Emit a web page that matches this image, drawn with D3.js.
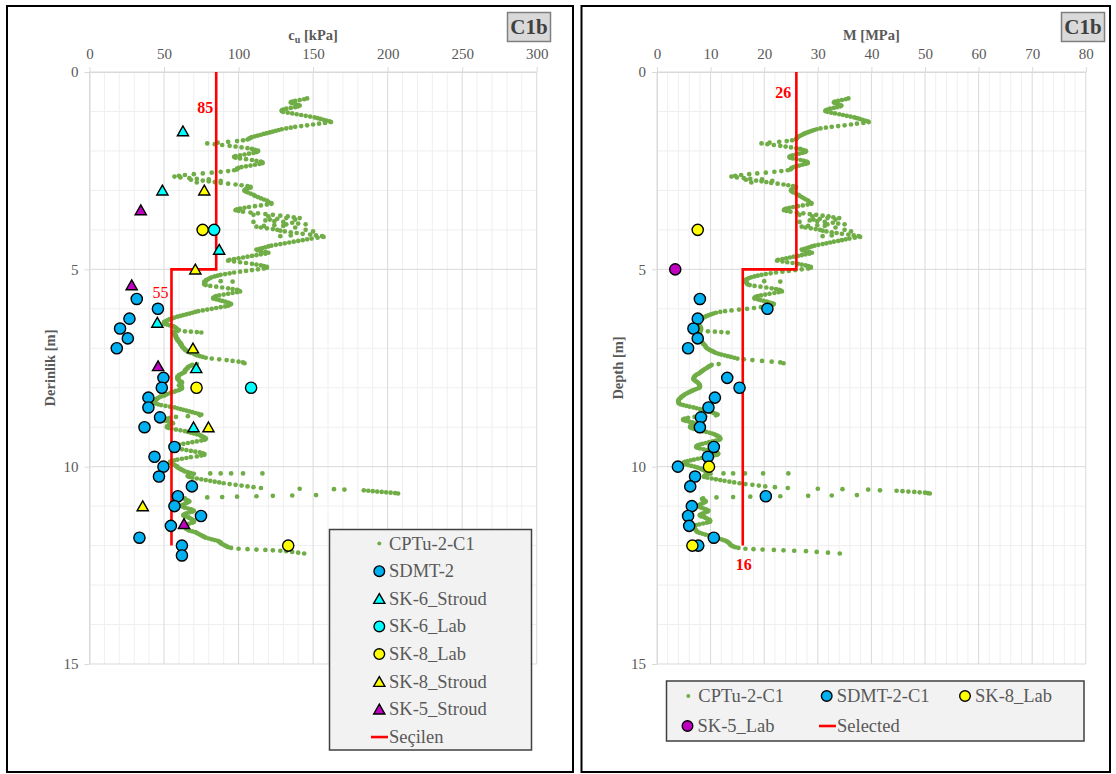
<!DOCTYPE html>
<html><head><meta charset="utf-8">
<script src="https://cdn.jsdelivr.net/npm/d3@7"></script>
<style>
body{margin:0;background:#fff}
svg text{font-family:"Liberation Serif","Times New Roman",serif}
</style>
</head><body>
<svg id="c" width="1116" height="774"></svg>
<script>
// ---------------- DATA ----------------
const cuTicks = [0, 50, 100, 150, 200, 250, 300];
const mTicks = [0, 10, 20, 30, 40, 50, 60, 70, 80];
const depthTicks = [0, 5, 10, 15];

// CPTu-2-C1 cu profile [depth m, cu kPa]
const cptCu = [
[0.67,146],[0.69,144],[0.71,141],[0.73,138],[0.75,136],[0.77,135],[0.79,136],[0.81,138],[0.83,140],[0.85,141],[0.87,140],[0.89,138],[0.91,135],[0.93,132],[0.95,130],[0.97,129],[0.99,129],[1.01,130],[1.03,133],[1.05,136],[1.07,139],[1.09,142],[1.11,145],[1.13,148],[1.15,151],[1.17,153],[1.19,155],[1.21,157],[1.23,159],[1.25,161],[1.27,162],
[1.29,158],[1.31,154],[1.33,150],[1.35,146],[1.37,142],[1.39,138],[1.41,135],[1.43,132],[1.45,129],[1.47,127],[1.49,125],[1.51,123],[1.53,121],[1.55,119],[1.57,117],[1.59,115],[1.61,113],[1.63,111],[1.65,109],[1.67,108],[1.69,107],[1.71,106],[1.73,103],[1.75,99],[1.77,93],[1.79,86],[1.81,79],
[1.83,84],[1.85,89],[1.87,94],[1.89,98],[1.91,102],[1.93,106],[1.95,109],[1.97,111],[1.99,113],[2.01,113],[2.03,112],[2.05,110],[2.07,107],[2.09,104],[2.11,101],[2.13,98],[2.15,97],[2.17,98],[2.19,101],[2.21,105],[2.23,109],[2.25,112],[2.27,115],[2.29,116],[2.31,116],[2.33,114],[2.35,111],[2.37,108],[2.39,105],[2.41,102],[2.43,100],[2.45,99],[2.47,99],[2.49,97],[2.51,93],[2.53,88],[2.55,82],[2.57,76],[2.59,70],[2.61,64],[2.63,60],[2.65,57],
[2.67,61],[2.69,67],[2.71,72],[2.72,80],[2.73,68],[2.75,76],[2.76,88],[2.77,80],[2.79,84],[2.80,72],[2.81,88],[2.83,93],[2.85,98],[2.87,102],[2.89,106],[2.91,108],[2.93,108],[2.95,106],[2.97,105],[2.99,104],[3.01,104],[3.03,105],[3.05,106],[3.08,108],[3.11,110],[3.14,111],[3.17,113],[3.20,115],[3.23,117],[3.26,119],[3.29,120],[3.32,122],[3.34,122],[3.36,119],[3.38,115],[3.40,111],[3.42,107],[3.44,104],[3.46,101],[3.48,99],[3.50,98],[3.52,100],
[3.54,103],[3.56,108],[3.58,113],[3.60,118],[3.62,123],[3.62,110],[3.64,128],[3.66,133],[3.66,120],[3.68,137],[3.70,132],[3.70,141],[3.72,126],[3.74,121],[3.74,138],[3.76,118],[3.78,124],[3.80,130],[3.80,110],[3.82,136],[3.84,140],[3.86,132],[3.86,145],[3.88,124],[3.90,117],[3.90,130],[3.92,112],[3.94,115],[3.94,138],[3.96,119],[3.98,123],[4.00,126],[4.00,145],[4.02,128],[4.04,131],[4.04,150],[4.06,135],[4.08,139],[4.10,143],[4.12,148],[4.14,152],[4.14,135],[4.16,156],[4.16,128],[4.18,157],
[4.20,153],[4.22,149],[4.24,146],[4.26,143],[4.28,140],[4.30,137],[4.32,134],[4.34,131],[4.36,128],[4.38,125],[4.40,122],[4.42,120],[4.44,118],[4.46,116],[4.48,114],[4.50,112],[4.52,113],[4.54,115],[4.56,118],[4.58,120],[4.60,118],[4.62,115],[4.64,112],[4.66,109],[4.68,106],[4.70,103],[4.72,100],[4.74,97],[4.76,94],[4.78,93],[4.80,97],[4.82,101],[4.84,105],[4.86,109],[4.88,112],[4.90,115],[4.92,117],[4.94,119],[4.96,119],[4.98,117],
[5.00,113],[5.02,109],[5.04,105],[5.06,101],[5.08,97],[5.10,94],[5.12,91],[5.14,88],[5.16,86],[5.18,84],[5.20,82],[5.22,81],[5.24,80],[5.26,79],[5.28,78],[5.30,78],[5.30,88],[5.31,96],[5.32,77],[5.34,77],[5.36,77],[5.38,77],[5.40,78],[5.42,81],[5.44,85],[5.46,89],[5.48,93],[5.50,96],[5.52,99],[5.54,100],[5.56,101],[5.58,99],[5.60,96],[5.62,93],[5.64,90],[5.66,87],[5.68,85],[5.70,84],[5.72,83],[5.74,83],[5.76,85],[5.78,87],[5.80,89],[5.82,91],[5.84,93],[5.86,94],[5.88,95],[5.90,94],[5.92,93],[5.94,91],[5.96,88],[5.98,85],[6.00,82],[6.02,79],[6.04,76],[6.06,73],[6.08,71],[6.10,69],[6.12,67],[6.14,65],[6.16,63],[6.18,61],[6.20,59],[6.22,57],[6.24,56],[6.26,54],[6.28,53],[6.30,52],[6.32,51],[6.34,50],[6.36,50],[6.38,50],[6.40,52],
[6.42,54],[6.44,56],[6.46,57],[6.48,58],[6.50,58],[6.52,59],[6.54,60],[6.56,59],[6.57,64],[6.58,68],[6.59,72],[6.60,75],[6.58,57],[6.60,56],[6.62,56],[6.64,57],[6.66,57],[6.68,58],[6.70,58],[6.72,58],[6.74,58],[6.76,59],[6.78,59],[6.80,59],[6.82,60],[6.84,60],[6.86,61],[6.88,61],[6.90,61],[6.92,62],[6.94,62],[6.96,62],[6.98,63],[7.00,63],[7.02,64],[7.04,64],[7.06,65],[7.08,66],[7.10,67],[7.12,68],[7.14,70],[7.16,71],[7.18,72],[7.20,74],[7.22,76],[7.24,78],[7.26,82],[7.28,87],[7.30,92],[7.32,96],[7.34,100],[7.36,103],[7.38,104],[7.40,72],
[7.42,69],[7.44,68],[7.46,67],[7.48,66],[7.50,66],[7.52,65],[7.54,65],[7.56,64],[7.58,64],[7.60,64],[7.62,63],[7.64,62],[7.66,61],[7.68,60],[7.70,60],[7.72,59],[7.74,59],[7.76,59],[7.78,59],[7.80,60],[7.82,60],[7.84,61],[7.86,62],[7.88,62],[7.90,61],[7.92,61],[7.94,60],[7.96,61],[7.98,62],[8.00,62],[8.02,62],[8.04,61],[8.06,60],[8.08,58],[8.10,57],[8.12,55],[8.14,54],[8.16,52],[8.18,51],[8.20,50],[8.22,48],[8.24,47],[8.26,46],[8.28,45],[8.30,45],[8.32,44],[8.34,44],[8.36,43],[8.38,43],[8.40,44],[8.42,46],[8.44,48],[8.46,51],[8.48,54],[8.50,57],[8.52,59],[8.54,61],[8.56,63],[8.58,65],[8.60,67],[8.62,69],[8.64,71],[8.66,73],[8.68,75],[8.70,74],[8.72,66],[8.74,58],[8.76,54],[8.78,52],[8.80,50],[8.82,50],[8.84,51],[8.86,53],[8.88,55],[8.90,56],[8.92,55],[8.94,54],[8.96,53],[8.98,52],[9.00,52],[9.02,53],[9.04,55],[9.06,58],[9.08,61],[9.10,64],[9.12,66],[9.14,68],[9.16,70],[9.18,72],[9.20,74],[9.22,75],[9.24,76],[9.26,77],[9.28,78],[9.30,78],[9.32,77],[9.34,75],[9.36,72],[9.38,69],[9.40,66],[9.42,63],[9.44,60],[9.46,58],[9.48,56],[9.50,55],[9.52,56],[9.54,59],[9.56,62],[9.58,65],[9.60,68],[9.62,71],[9.64,74],[9.66,76],[9.68,77],[9.70,77],[9.72,75],[9.74,72],[9.76,68],[9.78,65],[9.80,62],[9.82,59],[9.84,57],[9.86,55],[9.88,54],[9.90,54],[9.92,55],[9.94,56],[9.96,57],[9.98,58],[10.00,59],[10.02,59],[10.04,60],[10.06,61],[10.08,62],[10.10,63],[10.12,64],[10.14,66],[10.16,68],[10.17,81],[10.17,88],[10.17,95],[10.17,103],[10.17,116],[10.18,70],
[10.20,67],[10.22,66],[10.24,66],[10.26,67],[10.28,69],[10.30,72],[10.32,75],[10.34,78],[10.36,81],[10.38,84],[10.40,87],[10.42,90],[10.44,94],[10.46,98],[10.48,102],[10.50,106],[10.52,110],[10.54,115],[10.56,141],[10.57,164],[10.58,171],[10.60,184],[10.61,187],[10.62,190],[10.63,193],[10.64,196],[10.65,199],[10.66,202],[10.67,205],[10.68,207],[10.72,152],[10.73,136],[10.74,123],[10.75,112],[10.76,99],[10.77,89],[10.78,79],[10.80,64],
[10.82,64],[10.84,65],[10.86,66],[10.88,67],[10.90,66],[10.92,65],[10.94,64],[10.96,63],[10.98,62],[11.00,62],[11.02,63],[11.04,64],[11.06,66],[11.08,68],[11.10,69],[11.12,70],[11.14,69],[11.16,67],[11.18,65],[11.20,64],[11.22,63],[11.24,63],[11.26,64],[11.28,66],[11.30,67],[11.32,68],[11.34,69],[11.36,70],[11.38,70],[11.40,70],[11.42,69],[11.44,67],[11.46,66],[11.48,65],[11.50,64],[11.52,64],[11.54,64],[11.56,65],[11.58,65],[11.60,66],[11.62,67],[11.64,69],[11.66,71],[11.68,72],[11.70,73],[11.72,74],[11.74,75],[11.76,76],[11.78,77],[11.80,78],[11.82,80],[11.84,82],[11.86,84],[11.88,86],[11.90,87],[11.92,88],[11.94,88],[11.96,89],[11.98,90],[12.00,91],[12.02,92],[12.04,93],[12.06,95],[12.08,100],[12.09,106],[12.10,112],[12.11,118],[12.12,123],[12.13,128],[12.14,132],[12.16,136],[12.18,140],[12.20,144]
];

// CPTu-2-C1 constrained modulus profile [depth m, M MPa]
const cptM = [
[0.67,35.7],[0.69,35.2],[0.71,34.5],[0.73,33.8],[0.75,33.2],[0.77,33.0],[0.79,33.3],[0.81,33.7],[0.83,34.1],[0.85,34.4],[0.87,34.2],[0.89,33.6],[0.91,33.0],[0.93,32.3],[0.95,31.8],[0.97,31.5],[0.99,31.4],[1.01,31.8],[1.03,32.5],[1.05,33.2],[1.07,34.0],[1.09,34.7],[1.11,35.4],[1.13,36.1],[1.15,36.8],[1.17,37.3],[1.19,37.8],[1.21,38.3],[1.23,38.8],[1.25,39.3],[1.27,39.5],
[1.29,38.5],[1.31,37.3],[1.33,36.2],[1.35,35.0],[1.37,33.8],[1.39,32.6],[1.41,31.5],[1.43,30.5],[1.45,29.8],[1.47,29.3],[1.49,28.9],[1.51,28.5],[1.53,28.1],[1.55,27.7],[1.57,27.4],[1.59,27.1],[1.61,26.8],[1.63,26.5],[1.65,26.3],[1.67,26.1],[1.69,26.0],[1.71,25.9],[1.73,25.2],[1.75,24.2],[1.77,22.8],[1.79,21.0],[1.81,19.5],
[1.83,20.6],[1.85,21.8],[1.87,23.0],[1.89,24.0],[1.91,25.0],[1.93,26.0],[1.95,26.7],[1.97,27.2],[1.99,27.7],[2.01,27.8],[2.03,27.6],[2.05,27.1],[2.07,26.5],[2.09,25.9],[2.11,25.3],[2.13,24.9],[2.15,24.7],[2.17,24.8],[2.19,25.3],[2.21,26.0],[2.23,26.8],[2.25,27.4],[2.27,27.9],[2.29,28.1],[2.31,28.1],[2.33,27.7],[2.35,27.1],[2.37,26.5],[2.39,25.9],[2.41,25.5],[2.43,25.2],[2.45,25.0],[2.47,24.9],[2.49,24.4],[2.51,23.2],[2.53,21.9],[2.55,20.3],[2.57,18.7],[2.59,17.2],[2.61,15.7],[2.63,14.6],[2.65,13.9],
[2.67,14.9],[2.69,16.2],[2.71,17.4],[2.72,19.6],[2.73,16.6],[2.75,18.5],[2.76,21.5],[2.77,19.5],[2.79,20.4],[2.80,17.6],[2.81,21.3],[2.83,22.5],[2.85,23.6],[2.87,24.5],[2.89,25.4],[2.91,25.9],[2.93,25.9],[2.95,25.5],[2.97,25.2],[2.99,25.0],[3.01,25.0],[3.03,25.2],[3.05,25.4],[3.08,25.9],[3.11,26.4],[3.14,26.6],[3.17,27.0],[3.20,27.4],[3.23,27.8],[3.26,28.2],[3.29,28.4],[3.32,28.8],[3.34,28.8],[3.36,28.1],[3.38,27.2],[3.40,26.3],[3.42,25.4],[3.44,24.7],[3.46,24.1],[3.48,23.8],[3.50,23.7],[3.52,24.2],
[3.54,24.9],[3.56,26.1],[3.58,27.3],[3.60,28.5],[3.62,29.7],[3.62,26.6],[3.64,30.9],[3.66,32.0],[3.66,29.0],[3.68,32.9],[3.70,31.8],[3.70,34.0],[3.72,30.4],[3.74,29.2],[3.74,33.3],[3.76,28.5],[3.78,29.9],[3.80,31.3],[3.80,26.6],[3.82,32.8],[3.84,33.8],[3.86,31.8],[3.86,35.0],[3.88,29.9],[3.90,28.2],[3.90,31.3],[3.92,27.0],[3.94,27.7],[3.94,33.3],[3.96,28.7],[3.98,29.6],[4.00,30.4],[4.00,35.0],[4.02,30.9],[4.04,31.6],[4.04,36.2],[4.06,32.6],[4.08,33.5],[4.10,34.5],[4.12,35.7],[4.14,36.7],[4.14,32.6],[4.16,37.6],[4.16,30.9],[4.18,37.9],
[4.20,36.9],[4.22,35.9],[4.24,35.2],[4.26,34.5],[4.28,33.8],[4.30,33.0],[4.32,32.3],[4.34,31.6],[4.36,30.9],[4.38,30.1],[4.40,29.4],[4.42,28.9],[4.44,28.4],[4.46,28.0],[4.48,27.5],[4.50,27.0],[4.52,27.2],[4.54,27.7],[4.56,28.4],[4.58,28.9],[4.60,28.4],[4.62,27.7],[4.64,27.0],[4.66,26.3],[4.68,25.5],[4.70,24.8],[4.72,24.1],[4.74,23.4],[4.76,22.6],[4.78,22.4],[4.80,23.4],[4.82,24.3],[4.84,25.3],[4.86,26.3],[4.88,27.0],[4.90,27.7],[4.92,28.2],[4.94,28.7],[4.96,28.7],[4.98,28.2],
[5.00,27.0],[5.02,25.8],[5.04,24.6],[5.06,23.4],[5.08,22.2],[5.10,21.2],[5.12,20.3],[5.14,19.5],[5.16,18.8],[5.18,18.2],[5.20,17.6],[5.22,17.2],[5.24,16.9],[5.26,16.6],[5.28,16.4],[5.30,16.6],[5.30,20.0],[5.31,23.0],[5.32,16.5],[5.34,16.7],[5.36,16.8],[5.38,16.9],[5.40,17.3],[5.42,18.2],[5.44,19.3],[5.46,20.4],[5.48,21.4],[5.50,22.2],[5.52,22.8],[5.54,23.1],[5.56,23.3],[5.58,22.7],[5.60,21.9],[5.62,21.0],[5.64,20.2],[5.66,19.4],[5.68,18.8],[5.70,18.4],[5.72,18.2],[5.74,18.2],[5.76,18.8],[5.78,19.3],[5.80,19.9],[5.82,20.5],[5.84,21.0],[5.86,21.5],[5.88,21.8],[5.90,21.6],[5.92,21.3],[5.94,20.6],[5.96,19.4],[5.98,18.1],[6.00,16.8],[6.02,15.3],[6.04,13.9],[6.06,12.7],[6.08,11.8],[6.10,11.0],[6.12,10.5],[6.14,10.1],[6.16,9.7],[6.18,9.3],[6.20,9.0],[6.22,8.7],[6.24,8.5],[6.26,8.3],[6.28,8.1],[6.30,7.9],[6.32,7.7],[6.34,7.5],[6.36,7.4],[6.38,7.4],[6.40,7.6],
[6.42,7.8],[6.44,8.0],[6.46,8.1],[6.48,8.2],[6.50,8.2],[6.52,8.2],[6.54,8.2],[6.56,8.1],[6.57,9.5],[6.58,10.8],[6.59,12.0],[6.60,13.2],[6.58,8.0],[6.60,8.0],[6.62,8.0],[6.64,8.0],[6.66,8.0],[6.68,8.0],[6.70,8.0],[6.72,8.0],[6.74,8.0],[6.76,8.0],[6.78,8.1],[6.80,8.2],[6.82,8.3],[6.84,8.3],[6.86,8.5],[6.88,8.6],[6.90,8.7],[6.92,8.9],[6.94,9.0],[6.96,9.1],[6.98,9.2],[7.00,9.3],[7.02,9.6],[7.04,9.8],[7.06,10.1],[7.08,10.4],[7.10,10.7],[7.12,11.0],[7.14,11.5],[7.16,12.0],[7.18,12.6],[7.20,13.2],[7.22,13.8],[7.24,14.4],[7.26,15.0],[7.28,16.2],[7.30,17.8],[7.32,19.6],[7.34,21.4],[7.36,23.0],[7.38,23.6],[7.40,11.5],
[7.42,10.2],[7.44,10.0],[7.46,9.7],[7.48,9.5],[7.50,9.3],[7.52,9.0],[7.54,8.8],[7.56,8.6],[7.58,8.4],[7.60,8.2],[7.62,8.0],[7.64,7.8],[7.66,7.5],[7.68,7.3],[7.70,7.1],[7.72,7.0],[7.74,6.9],[7.76,6.8],[7.78,6.8],[7.80,6.9],[7.82,7.1],[7.84,7.3],[7.86,7.5],[7.88,7.7],[7.90,7.8],[7.92,7.9],[7.94,8.0],[7.96,8.0],[7.98,8.0],[8.00,7.9],[8.02,7.6],[8.04,7.2],[8.06,6.8],[8.08,6.5],[8.10,6.2],[8.12,5.9],[8.14,5.6],[8.16,5.3],[8.18,5.1],[8.20,4.9],[8.22,4.7],[8.24,4.5],[8.26,4.4],[8.28,4.2],[8.30,4.1],[8.32,4.0],[8.34,4.0],[8.36,4.0],[8.38,4.0],[8.40,4.1],[8.42,4.4],[8.44,4.9],[8.46,5.5],[8.48,6.1],[8.50,6.8],[8.52,7.4],[8.54,8.0],[8.56,8.6],[8.58,9.2],[8.60,9.7],[8.62,10.2],[8.64,10.6],[8.66,11.0],[8.68,11.3],[8.70,11.0],[8.72,9.0],[8.74,7.0],[8.76,5.8],[8.78,5.2],[8.80,4.9],[8.82,4.9],[8.84,5.4],[8.86,6.0],[8.88,6.6],[8.90,7.0],[8.92,6.8],[8.94,6.6],[8.96,6.4],[8.98,6.2],[9.00,6.2],[9.02,6.4],[9.04,6.8],[9.06,7.4],[9.08,8.0],[9.10,8.6],[9.12,9.2],[9.14,9.8],[9.16,10.3],[9.18,10.7],[9.20,11.0],[9.22,11.3],[9.24,11.5],[9.26,11.7],[9.28,11.8],[9.30,11.8],[9.32,11.6],[9.34,11.0],[9.36,10.4],[9.38,9.7],[9.40,9.1],[9.42,8.5],[9.44,8.0],[9.46,7.6],[9.48,7.4],[9.50,7.3],[9.52,7.5],[9.54,8.0],[9.56,8.7],[9.58,9.4],[9.60,10.0],[9.62,10.6],[9.64,11.1],[9.66,11.4],[9.68,11.4],[9.70,11.2],[9.72,10.6],[9.74,9.8],[9.76,9.0],[9.78,8.3],[9.80,7.6],[9.82,6.9],[9.84,6.3],[9.86,5.7],[9.88,5.2],[9.90,5.0],[9.92,4.9],[9.94,5.2],[9.96,5.8],[9.98,6.4],[10.00,7.0],[10.02,7.5],[10.04,8.0],[10.06,8.3],[10.08,8.6],[10.10,8.9],[10.12,9.1],[10.14,9.3],[10.16,9.6],[10.17,12.4],[10.17,14.2],[10.17,16.4],[10.17,19.8],[10.17,24.5],[10.18,10.0],
[10.20,9.4],[10.22,9.0],[10.24,8.8],[10.26,8.8],[10.28,9.4],[10.30,10.2],[10.32,11.0],[10.34,11.8],[10.36,12.6],[10.38,13.5],[10.40,14.4],[10.42,15.4],[10.44,16.5],[10.46,17.8],[10.48,19.0],[10.50,20.2],[10.52,22.0],[10.54,24.4],[10.56,30.0],[10.57,34.6],[10.58,39.4],[10.60,41.6],[10.61,44.7],[10.62,45.8],[10.63,46.9],[10.64,48.0],[10.65,49.0],[10.66,50.0],[10.67,50.5],[10.68,50.9],[10.72,37.3],[10.73,32.6],[10.74,28.2],[10.75,23.0],[10.76,17.4],[10.77,14.2],[10.78,11.1],[10.80,8.6],
[10.82,8.4],[10.84,8.6],[10.86,8.9],[10.88,9.1],[10.90,8.9],[10.92,8.6],[10.94,8.3],[10.96,8.0],[10.98,7.8],[11.00,7.8],[11.02,8.0],[11.04,8.3],[11.06,8.7],[11.08,9.1],[11.10,9.4],[11.12,9.6],[11.14,9.4],[11.16,9.0],[11.18,8.6],[11.20,8.3],[11.22,8.0],[11.24,8.0],[11.26,8.3],[11.28,8.8],[11.30,9.1],[11.32,9.4],[11.34,9.7],[11.36,9.9],[11.38,9.9],[11.40,9.8],[11.42,9.3],[11.44,8.6],[11.46,7.9],[11.48,7.3],[11.50,6.9],[11.52,6.8],[11.54,6.9],[11.56,7.0],[11.58,7.1],[11.60,7.2],[11.62,7.3],[11.64,7.4],[11.66,7.6],[11.68,8.0],[11.70,8.5],[11.72,9.0],[11.74,9.6],[11.76,10.2],[11.78,10.7],[11.80,11.1],[11.82,11.5],[11.84,12.0],[11.86,12.4],[11.88,12.8],[11.90,13.1],[11.92,13.3],[11.94,13.5],[11.96,13.6],[11.98,13.7],[12.00,13.9],[12.02,14.2],[12.04,14.6],[12.06,15.2],[12.08,16.5],[12.09,18.0],[12.10,19.7],[12.11,21.8],[12.12,23.6],[12.13,25.6],[12.14,27.8],[12.16,29.8],[12.18,31.9],[12.20,34.1]
];

// Left panel point series [value kPa, depth m]
const sdmt2Cu = [[31.7,5.75],[45.9,6.0],[26.8,6.25],[20.5,6.5],[25.7,6.75],[18.3,7.0],[49.6,7.75],[48.5,8.0],[39.5,8.25],[39.5,8.5],[47.3,8.75],[36.9,9.0],[57,9.5],[43.6,9.75],[49.6,10.0],[46.6,10.25],[68.7,10.5],[59.3,10.75],[57,11.0],[74.8,11.25],[54.6,11.5],[33.5,11.8],[62,12.0],[62,12.25]];
const sk6Stroud = [[62.7,1.5],[48.9,3.0],[87,4.5],[45.5,6.35],[71.6,7.5],[69.8,9.0]];
const sk6Lab = [[83.6,4.0],[108.4,8.0]];
const sk8LabCu = [[75.9,4.0],[71.8,8.0],[133.3,12.0]];
const sk8Stroud = [[77,3.0],[71,5.0],[69.4,7.0],[79.8,9.0],[35.7,11.0]];
const sk5Stroud = [[34.4,3.5],[28.3,5.4],[46,7.45],[63.4,11.45]];
const selectedCu = [[85,0],[85,5],[55,5],[55,12]];

// Right panel point series [value MPa, depth m]
const sdmt2M = [[8.0,5.75],[20.6,6.0],[7.6,6.25],[6.8,6.5],[7.6,6.75],[5.8,7.0],[13.1,7.75],[15.4,8.0],[10.8,8.25],[9.6,8.5],[8.2,8.75],[8.0,9.0],[10.6,9.5],[9.5,9.75],[3.9,10.0],[7.1,10.25],[6.2,10.5],[20.3,10.75],[6.5,11.0],[5.8,11.25],[6.0,11.5],[10.6,11.8],[7.7,12.0]];
const sk8LabM = [[7.6,4.0],[9.7,10.0],[6.6,12.0]];
const sk5LabM = [[3.4,5.0]];
const selectedM = [[26,0],[26,5],[16,5],[16,12]];

// ---------------- STYLE ----------------
const C = {
  green: "#70ad47", blue: "#00b0f0", cyan: "#00ffff", yellow: "#ffff00",
  purple: "#c000c0", red: "#ff0000", text: "#595959",
  major: "#d9d9d9", minor: "#efefef"
};

const svg = d3.select("#c");
svg.append("rect").attr("width",1116).attr("height",774).attr("fill","#fff");

const yScale = d3.scaleLinear().domain([0,15]).range([72,664]);

function triPath(x,y){ return `M${x},${y-5.2}L${x+5.6},${y+4.6}L${x-5.6},${y+4.6}Z`; }

function drawPanel(o){
  const g = svg.append("g");
  const x = o.x, y = yScale;
  g.append("rect").attr("x",o.frame[0]).attr("y",o.frame[1]).attr("width",o.frame[2]).attr("height",o.frame[3])
    .attr("fill","none").attr("stroke","#000").attr("stroke-width",2);
  const xMin = d3.range(o.dom[0], o.dom[1]+1e-9, o.minor).filter(v=>Math.abs(v/o.major-Math.round(v/o.major))>1e-6);
  g.selectAll(null).data(xMin).join("line")
    .attr("x1",d=>x(d)).attr("x2",d=>x(d)).attr("y1",y(0)).attr("y2",y(15))
    .attr("stroke",C.minor).attr("stroke-width",1);
  const yMin = d3.range(0,15.1,1).filter(v=>v%5!==0);
  g.selectAll(null).data(yMin).join("line")
    .attr("y1",d=>y(d)).attr("y2",d=>y(d)).attr("x1",x(o.dom[0])).attr("x2",x(o.dom[1]))
    .attr("stroke",C.minor).attr("stroke-width",1);
  g.selectAll(null).data(o.ticks).join("line")
    .attr("x1",d=>x(d)).attr("x2",d=>x(d)).attr("y1",y(0)).attr("y2",y(15))
    .attr("stroke",C.major).attr("stroke-width",1);
  g.selectAll(null).data(depthTicks).join("line")
    .attr("y1",d=>y(d)).attr("y2",d=>y(d)).attr("x1",x(o.dom[0])).attr("x2",x(o.dom[1]))
    .attr("stroke",C.major).attr("stroke-width",1);
  const ax = g.append("g").attr("transform",`translate(0,${y(0)})`)
    .call(d3.axisTop(x).tickValues(o.ticks).tickSize(5).tickSizeOuter(0).tickPadding(8));
  const ay = g.append("g").attr("transform",`translate(${x(o.dom[0])},0)`)
    .call(d3.axisLeft(y).tickValues(depthTicks).tickSize(5).tickSizeOuter(0).tickPadding(6));
  [ax,ay].forEach(a=>{
    a.selectAll("path,line").attr("stroke",C.major);
    a.selectAll("text").attr("fill",C.text).attr("font-size",15).attr("font-family","Liberation Serif");
  });
  const t = g.append("text").attr("x",(x(o.dom[0])+x(o.dom[1]))/2).attr("y",40)
    .attr("text-anchor","middle").attr("font-weight","bold").attr("font-size",14.5).attr("fill",C.text);
  o.xTitle(t);
  g.append("text").attr("transform",`translate(${o.yTitleX},${(y(0)+y(15))/2}) rotate(-90)`)
    .attr("text-anchor","middle").attr("font-weight","bold").attr("font-size",14.5).attr("fill",C.text)
    .text(o.yTitle);
  g.append("rect").attr("x",o.badge[0]).attr("y",o.badge[1]).attr("width",43).attr("height",29)
    .attr("fill","#d9d9d9").attr("stroke","#808080").attr("stroke-width",1.5);
  g.append("text").attr("x",o.badge[0]+21.5).attr("y",o.badge[1]+21.5).attr("text-anchor","middle")
    .attr("font-weight","bold").attr("font-size",21).attr("fill","#404040").text("C1b");
  return g;
}

function cpt(g, x, data){
  g.append("g").selectAll("circle").data(data).join("circle")
    .attr("cx",d=>x(d[1])).attr("cy",d=>yScale(d[0])).attr("r",2.35).attr("fill",C.green);
}
function selLine(g, x, data){
  g.append("path").datum(data)
    .attr("d", d3.line().x(d=>x(d[0])).y(d=>yScale(d[1])))
    .attr("fill","none").attr("stroke",C.red).attr("stroke-width",2.6);
}
function circles(g, x, data, fill){
  g.append("g").selectAll("circle").data(data).join("circle")
    .attr("cx",d=>x(d[0])).attr("cy",d=>yScale(d[1])).attr("r",5.6)
    .attr("fill",fill).attr("stroke","#000").attr("stroke-width",1.4);
}
function tris(g, x, data, fill){
  g.append("g").selectAll("path").data(data).join("path")
    .attr("d",d=>triPath(x(d[0]),yScale(d[1])))
    .attr("fill",fill).attr("stroke","#000").attr("stroke-width",1.4).attr("stroke-linejoin","miter");
}

// ---------- LEFT PANEL ----------
const xL = d3.scaleLinear().domain([0,300]).range([89.5,536.7]);
const gL = drawPanel({
  x:xL, dom:[0,300], ticks:cuTicks, major:50, minor:10,
  frame:[7,6,566,766], badge:[507.5,12.5], yTitleX:55, yTitle:"Derinlik [m]",
  xTitle: t=>{ t.append("tspan").text("c"); t.append("tspan").attr("dy",3).attr("font-size",10).text("u");
               t.append("tspan").attr("dy",-3).text(" [kPa]"); }
});
cpt(gL, xL, cptCu);
selLine(gL, xL, selectedCu);
circles(gL, xL, sdmt2Cu, C.blue);
tris(gL, xL, sk6Stroud, C.cyan);
circles(gL, xL, sk6Lab, C.cyan);
circles(gL, xL, sk8LabCu, C.yellow);
tris(gL, xL, sk8Stroud, C.yellow);
tris(gL, xL, sk5Stroud, C.purple);
gL.append("text").attr("x",xL(selectedCu[0][0])-11).attr("y",yScale(0.92)+5).attr("text-anchor","middle")
  .attr("font-weight","bold").attr("font-size",16).attr("fill",C.red).text(selectedCu[0][0]);
gL.append("text").attr("x",xL(selectedCu[2][0])-11).attr("y",yScale(5.6)+5).attr("text-anchor","middle")
  .attr("font-size",16).attr("fill",C.red).text(selectedCu[2][0]);

// left legend
(function(){
  const lg = svg.append("g");
  lg.append("rect").attr("x",329.5).attr("y",529.5).attr("width",202).attr("height",220.5)
    .attr("fill","#f2f2f2").attr("stroke","#404040").attr("stroke-width",1.5);
  const items = [
    ["CPTu-2-C1","dot",C.green],["SDMT-2","circle",C.blue],["SK-6_Stroud","tri",C.cyan],["SK-6_Lab","circle",C.cyan],
    ["SK-8_Lab","circle",C.yellow],["SK-8_Stroud","tri",C.yellow],["SK-5_Stroud","tri",C.purple],["Seçilen","line",C.red]];
  items.forEach((it,i)=>{
    const cy = 543.5 + i*27.65, mx = 379.3;
    if(it[1]==="dot") lg.append("circle").attr("cx",mx).attr("cy",cy).attr("r",2).attr("fill",it[2]);
    if(it[1]==="circle") lg.append("circle").attr("cx",mx).attr("cy",cy).attr("r",5.3).attr("fill",it[2]).attr("stroke","#000").attr("stroke-width",1.4);
    if(it[1]==="tri") lg.append("path").attr("d",triPath(mx,cy)).attr("fill",it[2]).attr("stroke","#000").attr("stroke-width",1.4);
    if(it[1]==="line") lg.append("line").attr("x1",371).attr("x2",388).attr("y1",cy).attr("y2",cy).attr("stroke",it[2]).attr("stroke-width",2.6);
    lg.append("text").attr("x",389).attr("y",cy+6).attr("font-size",18.5).attr("fill",C.text).text(it[0]);
  });
})();

// ---------- RIGHT PANEL ----------
const xR = d3.scaleLinear().domain([0,80]).range([657,1085.8]);
const gR = drawPanel({
  x:xR, dom:[0,80], ticks:mTicks, major:10, minor:2,
  frame:[581.5,6,528.5,766], badge:[1061.5,12.5], yTitleX:623, yTitle:"Depth [m]",
  xTitle: t=>{ t.text("M [MPa]"); }
});
cpt(gR, xR, cptM);
selLine(gR, xR, selectedM);
circles(gR, xR, sdmt2M, C.blue);
circles(gR, xR, sk8LabM, C.yellow);
circles(gR, xR, sk5LabM, C.purple);
gR.append("text").attr("x",xR(selectedM[0][0])-13).attr("y",yScale(0.52)+5).attr("text-anchor","middle")
  .attr("font-weight","bold").attr("font-size",16).attr("fill",C.red).text(selectedM[0][0]);
gR.append("text").attr("x",xR(selectedM[2][0])+1).attr("y",yScale(12.5)+5).attr("text-anchor","middle")
  .attr("font-weight","bold").attr("font-size",16).attr("fill",C.red).text(selectedM[2][0]);

// right legend
(function(){
  const lg = svg.append("g");
  lg.append("rect").attr("x",666.5).attr("y",681).attr("width",417.5).attr("height",60)
    .attr("fill","#f2f2f2").attr("stroke","#404040").attr("stroke-width",1.5);
  const items = [
    ["CPTu-2-C1","dot",C.green,688.3,696],["SDMT-2-C1","circle",C.blue,826.7,696],["SK-8_Lab","circle",C.yellow,965,696],
    ["SK-5_Lab","circle",C.purple,687.5,726],["Selected","line",C.red,827,726]];
  items.forEach(it=>{
    const mx = it[3], cy = it[4];
    if(it[1]==="dot") lg.append("circle").attr("cx",mx).attr("cy",cy).attr("r",2).attr("fill",it[2]);
    if(it[1]==="circle") lg.append("circle").attr("cx",mx).attr("cy",cy).attr("r",5.3).attr("fill",it[2]).attr("stroke","#000").attr("stroke-width",1.4);
    if(it[1]==="line") lg.append("line").attr("x1",mx-8).attr("x2",mx+9).attr("y1",cy).attr("y2",cy).attr("stroke",it[2]).attr("stroke-width",2.6);
    lg.append("text").attr("x",mx+10).attr("y",cy+6).attr("font-size",18.5).attr("fill",C.text).text(it[0]);
  });
})();
</script>
</body></html>
